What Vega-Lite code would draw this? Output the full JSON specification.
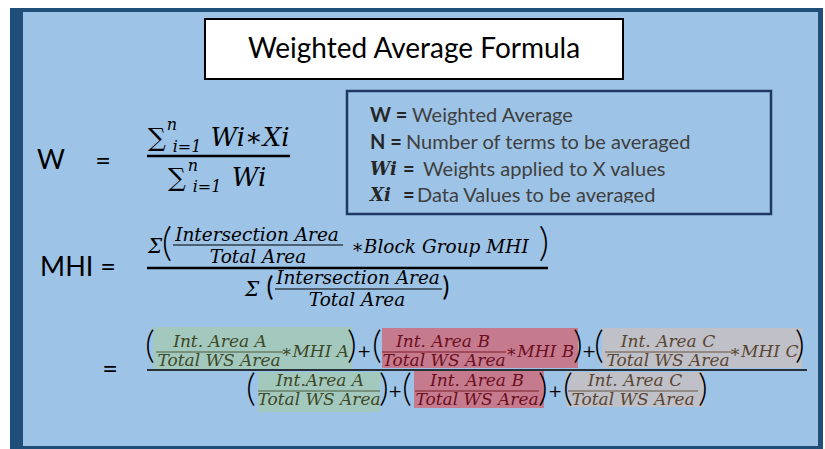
{
  "$schema": "https://vega.github.io/schema/vega-lite/v6.json",
  "width": 825,
  "height": 449,
  "autosize": {"type": "fit", "contains": "padding"},
  "padding": 0,
  "background": "#ffffff",
  "config": {"view": {"stroke": null}},
  "datasets": {
    "panels": [
      {"part": "frame", "x": 10, "x2": 823, "y": 8, "y2": 449, "c": "navy"},
      {"part": "inner", "x": 23, "x2": 818, "y": 12, "y2": 446, "c": "blue"},
      {"part": "hl A num", "x": 153, "x2": 352, "y": 327, "y2": 369, "c": "hlA"},
      {"part": "hl A den", "x": 258, "x2": 380, "y": 372, "y2": 412, "c": "hlA"},
      {"part": "hl B num", "x": 382, "x2": 578, "y": 328, "y2": 368, "c": "hlB"},
      {"part": "hl B den", "x": 414, "x2": 544, "y": 371, "y2": 408, "c": "hlB"},
      {"part": "hl C num", "x": 602, "x2": 802, "y": 328, "y2": 368, "c": "hlC"},
      {"part": "hl C den", "x": 567, "x2": 704, "y": 372, "y2": 407, "c": "hlC"}
    ],
    "boxes": [
      {"part": "title", "x": 205, "x2": 623, "y": 19, "y2": 79}
    ],
    "defbox": [
      {"part": "definitions", "x": 347, "x2": 771, "y": 91, "y2": 214}
    ],
    "clip": [
      {"part": "clip", "x": 350, "x2": 768, "y": 203, "y2": 212, "c": "blue"}
    ],
    "rules": [
      {"role": "thick", "x": 147, "x2": 290, "y": 156, "c": "tk"},
      {"role": "thick", "x": 147, "x2": 548, "y": 268, "c": "tk"},
      {"role": "mid", "x": 147, "x2": 807, "y": 370, "c": "tk"},
      {"role": "thin", "x": 173, "x2": 343, "y": 245, "c": "tk"},
      {"role": "thin", "x": 275, "x2": 442, "y": 289, "c": "tk"},
      {"role": "thin", "x": 156, "x2": 283, "y": 352, "c": "lA"},
      {"role": "thin", "x": 382, "x2": 506, "y": 352, "c": "lB"},
      {"role": "thin", "x": 605, "x2": 732, "y": 352, "c": "lC"},
      {"role": "thin", "x": 258, "x2": 380, "y": 391, "c": "lA"},
      {"role": "thin", "x": 415, "x2": 539, "y": 391, "c": "lB"},
      {"role": "thin", "x": 568, "x2": 698, "y": 391, "c": "lC"}
    ],
    "texts": [
      {"t": "Weighted Average Formula", "x": 414, "y": 50, "role": "title", "c": "tk"},
      {"t": "W", "x": 51, "y": 161, "role": "big", "c": "tk"},
      {"t": "=", "x": 103, "y": 162, "role": "big", "c": "tk"},
      {"t": "MHI =", "x": 78, "y": 268, "role": "big", "c": "tk"},
      {"t": "=", "x": 110, "y": 370, "role": "big", "c": "tk"},

      {"t": "W =", "x": 370, "y": 116, "role": "defb", "c": "tb"},
      {"t": "Weighted Average", "x": 412, "y": 116, "role": "defr", "c": "tg"},
      {"t": "N =", "x": 370, "y": 143, "role": "defb", "c": "tb"},
      {"t": "Number of terms to be averaged", "x": 406, "y": 143, "role": "defr", "c": "tg"},
      {"t": "Wi", "x": 370, "y": 170, "role": "defm", "c": "tb"},
      {"t": "=", "x": 403, "y": 170, "role": "defb", "c": "tb"},
      {"t": "Weights applied to X values", "x": 423, "y": 170, "role": "defr", "c": "tg"},
      {"t": "Xi", "x": 370, "y": 196, "role": "defm", "c": "tb"},
      {"t": "=", "x": 403, "y": 196, "role": "defb", "c": "tb"},
      {"t": "Data Values to be averaged", "x": 417, "y": 196, "role": "defr", "c": "tg"},

      {"t": "∑", "x": 157, "y": 138, "role": "sig", "c": "tk"},
      {"t": "∑", "x": 177, "y": 178, "role": "sig", "c": "tk"},
      {"t": "n", "x": 172, "y": 125, "role": "scr", "c": "tk"},
      {"t": "i=1", "x": 187, "y": 147, "role": "scr", "c": "tk"},
      {"t": "n", "x": 193, "y": 166, "role": "scr", "c": "tk"},
      {"t": "i=1", "x": 207, "y": 187, "role": "scr", "c": "tk"},
      {"t": "Wi∗Xi", "x": 250, "y": 138, "role": "wf", "c": "tk"},
      {"t": "Wi", "x": 249, "y": 178, "role": "wf", "c": "tk"},

      {"t": "Σ", "x": 155, "y": 247, "role": "msig", "c": "tk"},
      {"t": "Intersection Area", "x": 257, "y": 235, "role": "mf", "c": "tk"},
      {"t": "Total Area", "x": 258, "y": 257, "role": "mf", "c": "tk"},
      {"t": "∗Block Group MHI", "x": 440, "y": 247, "role": "mf", "c": "tk"},
      {"t": "Σ", "x": 252, "y": 290, "role": "msig", "c": "tk"},
      {"t": "Intersection Area", "x": 358, "y": 278, "role": "mf", "c": "tk"},
      {"t": "Total Area", "x": 357, "y": 300, "role": "mf", "c": "tk"},
      {"t": "(", "x": 167, "y": 244, "role": "pbig", "c": "tk"},
      {"t": ")", "x": 544, "y": 244, "role": "pbig", "c": "tk"},
      {"t": "(", "x": 270, "y": 288, "role": "psm", "c": "tk"},
      {"t": ")", "x": 446, "y": 288, "role": "psm", "c": "tk"},

      {"t": "Int. Area A", "x": 220, "y": 342, "role": "lf", "c": "tA"},
      {"t": "Total WS Area", "x": 219, "y": 361, "role": "lf", "c": "tA"},
      {"t": "∗MHI A", "x": 315, "y": 352, "role": "lf", "c": "tA"},
      {"t": "Int.Area A", "x": 320, "y": 381, "role": "lf", "c": "tA"},
      {"t": "Total WS Area", "x": 319, "y": 400, "role": "lf", "c": "tA"},
      {"t": "Int. Area B", "x": 443, "y": 342, "role": "lf", "c": "tB"},
      {"t": "Total WS Area", "x": 444, "y": 361, "role": "lf", "c": "tB"},
      {"t": "∗MHI B", "x": 540, "y": 352, "role": "lf", "c": "tB"},
      {"t": "Int. Area B", "x": 477, "y": 381, "role": "lf", "c": "tB"},
      {"t": "Total WS Area", "x": 477, "y": 400, "role": "lf", "c": "tB"},
      {"t": "Int. Area C", "x": 668, "y": 342, "role": "lf", "c": "tC"},
      {"t": "Total WS Area", "x": 668, "y": 361, "role": "lf", "c": "tC"},
      {"t": "∗MHI C", "x": 764, "y": 352, "role": "lf", "c": "tC"},
      {"t": "Int. Area C", "x": 635, "y": 381, "role": "lf", "c": "tC"},
      {"t": "Total WS Area", "x": 633, "y": 400, "role": "lf", "c": "tC"},

      {"t": "(", "x": 150, "y": 347, "role": "plow", "c": "tk"},
      {"t": ")", "x": 352, "y": 347, "role": "plow", "c": "tk"},
      {"t": "(", "x": 377, "y": 347, "role": "plow", "c": "tk"},
      {"t": ")", "x": 578, "y": 347, "role": "plow", "c": "tk"},
      {"t": "(", "x": 599, "y": 347, "role": "plow", "c": "tk"},
      {"t": ")", "x": 800, "y": 347, "role": "plow", "c": "tk"},
      {"t": "(", "x": 251, "y": 390, "role": "plow", "c": "tk"},
      {"t": ")", "x": 384, "y": 390, "role": "plow", "c": "tk"},
      {"t": "(", "x": 407, "y": 390, "role": "plow", "c": "tk"},
      {"t": ")", "x": 543, "y": 390, "role": "plow", "c": "tk"},
      {"t": "(", "x": 568, "y": 390, "role": "plow", "c": "tk"},
      {"t": ")", "x": 703, "y": 390, "role": "plow", "c": "tk"},
      {"t": "+", "x": 364, "y": 352, "role": "plus", "c": "tk"},
      {"t": "+", "x": 589, "y": 352, "role": "plus", "c": "tk"},
      {"t": "+", "x": 395, "y": 392, "role": "plus", "c": "tk"},
      {"t": "+", "x": 555, "y": 392, "role": "plus", "c": "tk"}
    ]
  },
  "encoding": {
    "x": {"field": "x", "type": "quantitative", "scale": {"domain": [0, 825], "nice": false, "zero": false}, "axis": null},
    "y": {"field": "y", "type": "quantitative", "scale": {"domain": [0, 449], "nice": false, "zero": false, "reverse": true}, "axis": null}
  },
  "layer": [
    {
      "data": {"name": "panels"},
      "mark": {"type": "rect"},
      "encoding": {
        "x2": {"field": "x2"},
        "y2": {"field": "y2"},
        "color": {"field": "c", "type": "nominal", "legend": null,
          "scale": {"domain": ["navy", "blue", "hlA", "hlB", "hlC", "tk", "tb", "tg", "tA", "tB", "tC", "lA", "lB", "lC"],
                    "range": ["#1f4e79", "#9dc3e6", "#a3c8be", "#c67a8e", "#bfc0c8", "#000000", "#262626", "#3f3f3f", "#3d4826", "#6b0f1e", "#5a4632", "#4a5a3a", "#7a1c2a", "#6a5442"]}}
      }
    },
    {
      "data": {"name": "boxes"},
      "mark": {"type": "rect", "fill": "#ffffff", "stroke": "#000000", "strokeWidth": 2},
      "encoding": {"x2": {"field": "x2"}, "y2": {"field": "y2"}}
    },
    {
      "data": {"name": "rules"},
      "transform": [{"filter": "datum.role === 'thick'"}],
      "mark": {"type": "rule", "strokeWidth": 2.6},
      "encoding": {"x2": {"field": "x2"}, "color": {"field": "c", "type": "nominal", "legend": null}}
    },
    {
      "data": {"name": "rules"},
      "transform": [{"filter": "datum.role === 'mid'"}],
      "mark": {"type": "rule", "strokeWidth": 1.6},
      "encoding": {"x2": {"field": "x2"}, "color": {"field": "c", "type": "nominal", "legend": null}}
    },
    {
      "data": {"name": "rules"},
      "transform": [{"filter": "datum.role === 'thin'"}],
      "mark": {"type": "rule", "strokeWidth": 1.1},
      "encoding": {"x2": {"field": "x2"}, "color": {"field": "c", "type": "nominal", "legend": null}}
    },
    {
      "data": {"name": "texts"},
      "transform": [{"filter": "datum.role === 'title'"}],
      "mark": {"type": "text", "font": "Lato", "fontSize": 28, "align": "center", "baseline": "middle"},
      "encoding": {"text": {"field": "t"}, "color": {"field": "c", "type": "nominal", "legend": null}}
    },
    {
      "data": {"name": "texts"},
      "transform": [{"filter": "datum.role === 'big'"}],
      "mark": {"type": "text", "font": "Lato", "fontSize": 27, "align": "center", "baseline": "middle"},
      "encoding": {"text": {"field": "t"}, "color": {"field": "c", "type": "nominal", "legend": null}}
    },
    {
      "data": {"name": "texts"},
      "transform": [{"filter": "datum.role === 'defr'"}],
      "mark": {"type": "text", "font": "Lato", "fontSize": 20, "align": "left", "baseline": "middle"},
      "encoding": {"text": {"field": "t"}, "color": {"field": "c", "type": "nominal", "legend": null}}
    },
    {
      "data": {"name": "texts"},
      "transform": [{"filter": "datum.role === 'defb'"}],
      "mark": {"type": "text", "font": "Lato", "fontSize": 20, "fontWeight": "bold", "align": "left", "baseline": "middle"},
      "encoding": {"text": {"field": "t"}, "color": {"field": "c", "type": "nominal", "legend": null}}
    },
    {
      "data": {"name": "texts"},
      "transform": [{"filter": "datum.role === 'defm'"}],
      "mark": {"type": "text", "font": "DejaVu Serif", "fontSize": 18, "fontWeight": "bold", "fontStyle": "italic", "align": "left", "baseline": "middle"},
      "encoding": {"text": {"field": "t"}, "color": {"field": "c", "type": "nominal", "legend": null}}
    },
    {
      "data": {"name": "texts"},
      "transform": [{"filter": "datum.role === 'sig'"}],
      "mark": {"type": "text", "font": "DejaVu Serif", "fontSize": 25, "align": "center", "baseline": "middle"},
      "encoding": {"text": {"field": "t"}, "color": {"field": "c", "type": "nominal", "legend": null}}
    },
    {
      "data": {"name": "texts"},
      "transform": [{"filter": "datum.role === 'scr'"}],
      "mark": {"type": "text", "font": "DejaVu Serif", "fontSize": 16, "fontStyle": "italic", "align": "center", "baseline": "middle"},
      "encoding": {"text": {"field": "t"}, "color": {"field": "c", "type": "nominal", "legend": null}}
    },
    {
      "data": {"name": "texts"},
      "transform": [{"filter": "datum.role === 'wf'"}],
      "mark": {"type": "text", "font": "DejaVu Serif", "fontSize": 26, "fontStyle": "italic", "align": "center", "baseline": "middle"},
      "encoding": {"text": {"field": "t"}, "color": {"field": "c", "type": "nominal", "legend": null}}
    },
    {
      "data": {"name": "texts"},
      "transform": [{"filter": "datum.role === 'msig'"}],
      "mark": {"type": "text", "font": "DejaVu Serif", "fontSize": 20, "fontStyle": "italic", "align": "center", "baseline": "middle"},
      "encoding": {"text": {"field": "t"}, "color": {"field": "c", "type": "nominal", "legend": null}}
    },
    {
      "data": {"name": "texts"},
      "transform": [{"filter": "datum.role === 'mf'"}],
      "mark": {"type": "text", "font": "DejaVu Serif", "fontSize": 18.5, "fontStyle": "italic", "align": "center", "baseline": "middle"},
      "encoding": {"text": {"field": "t"}, "color": {"field": "c", "type": "nominal", "legend": null}}
    },
    {
      "data": {"name": "texts"},
      "transform": [{"filter": "datum.role === 'lf'"}],
      "mark": {"type": "text", "font": "DejaVu Serif", "fontSize": 17, "fontStyle": "italic", "align": "center", "baseline": "middle"},
      "encoding": {"text": {"field": "t"}, "color": {"field": "c", "type": "nominal", "legend": null}}
    },
    {
      "data": {"name": "texts"},
      "transform": [{"filter": "datum.role === 'pbig'"}],
      "mark": {"type": "text", "font": "Lato", "fontWeight": 300, "fontSize": 40, "align": "center", "baseline": "middle"},
      "encoding": {"text": {"field": "t"}, "color": {"field": "c", "type": "nominal", "legend": null}}
    },
    {
      "data": {"name": "texts"},
      "transform": [{"filter": "datum.role === 'psm'"}],
      "mark": {"type": "text", "font": "Lato", "fontWeight": 400, "fontSize": 26, "align": "center", "baseline": "middle"},
      "encoding": {"text": {"field": "t"}, "color": {"field": "c", "type": "nominal", "legend": null}}
    },
    {
      "data": {"name": "texts"},
      "transform": [{"filter": "datum.role === 'plow'"}],
      "mark": {"type": "text", "font": "Lato", "fontWeight": 300, "fontSize": 38, "align": "center", "baseline": "middle"},
      "encoding": {"text": {"field": "t"}, "color": {"field": "c", "type": "nominal", "legend": null}}
    },
    {
      "data": {"name": "texts"},
      "transform": [{"filter": "datum.role === 'plus'"}],
      "mark": {"type": "text", "font": "DejaVu Serif", "fontSize": 17, "align": "center", "baseline": "middle"},
      "encoding": {"text": {"field": "t"}, "color": {"field": "c", "type": "nominal", "legend": null}}
    },
    {
      "data": {"name": "clip"},
      "mark": {"type": "rect"},
      "encoding": {"x2": {"field": "x2"}, "y2": {"field": "y2"}, "color": {"field": "c", "type": "nominal", "legend": null}}
    },
    {
      "data": {"name": "defbox"},
      "mark": {"type": "rect", "fill": null, "fillOpacity": 0, "stroke": "#1f3864", "strokeWidth": 2.5},
      "encoding": {"x2": {"field": "x2"}, "y2": {"field": "y2"}}
    }
  ]
}
